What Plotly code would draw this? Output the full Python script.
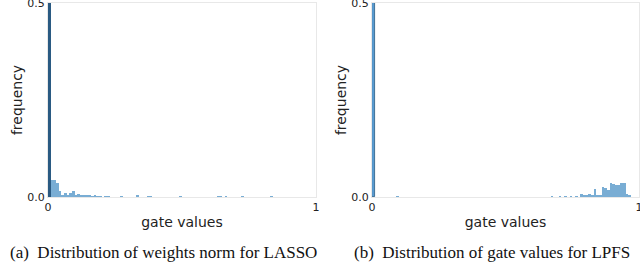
import plotly.graph_objects as go

bin_width = 0.01
n_bins = 100

# LASSO: weights norm histogram (bin index -> frequency)
lasso_bins = {
    0: 0.62, 1: 0.045, 2: 0.043, 3: 0.036, 4: 0.016, 5: 0.006, 6: 0.011,
    7: 0.006, 8: 0.011, 9: 0.016, 10: 0.005, 11: 0.007, 12: 0.004,
    13: 0.006, 14: 0.003, 15: 0.004, 16: 0.002, 17: 0.003, 18: 0.002,
    19: 0.002, 21: 0.002, 22: 0.002, 27: 0.002, 33: 0.004, 37: 0.002,
    38: 0.002, 49: 0.002, 63: 0.002, 64: 0.002, 66: 0.002, 72: 0.002,
    83: 0.002,
}

# LPFS: gate values histogram (bin index -> frequency)
lpfs_bins = {
    0: 0.62, 9: 0.002, 67: 0.002, 70: 0.002, 72: 0.002, 74: 0.002,
    76: 0.002, 78: 0.007, 79: 0.006, 80: 0.005, 81: 0.009, 82: 0.005,
    83: 0.020, 84: 0.005, 85: 0.005, 86: 0.026, 87: 0.023, 88: 0.017,
    89: 0.036, 90: 0.034, 91: 0.030, 92: 0.031, 93: 0.036, 94: 0.035,
    95: 0.008, 96: 0.004,
}

captions = ["(a)  Distribution of weights norm for LASSO",
            "(b)  Distribution of gate values for LPFS"]
x_title = "gate values"
y_title = "frequency"

light = "#79add4"
dark = "#2a5a82"
spike_fill = [dark, "#5a9bd0"]

fig = go.Figure()

x_domains = [[48 / 640, 316 / 640], [372 / 640, 639 / 640]]
y_domain = [1 - 197 / 267, 1 - 3 / 267]

for i, data in enumerate([lasso_bins, lpfs_bins]):
    keys = sorted(data)
    xs = [k * bin_width for k in keys]
    ys = [data[k] for k in keys]
    colors = [spike_fill[i] if k == 0 else light for k in keys]
    lw = [(0 if i == 0 else 0.8) if k == 0 else 0 for k in keys]
    ax = "" if i == 0 else "2"
    fig.add_trace(go.Bar(
        x=xs, y=ys, width=bin_width, offset=0,
        marker=dict(color=colors, line=dict(width=lw, color=dark)),
        xaxis="x" + ax, yaxis="y" + ax, showlegend=False,
        cliponaxis=True, hoverinfo="skip",
    ))

axis_common = dict(
    showline=True, linecolor="#e8e8e8", linewidth=1, mirror=True,
    showgrid=False, zeroline=False, ticks="", automargin=False,
    ticklabeloverflow="allow",
    tickfont=dict(family="DejaVu Sans", size=11, color="#222"),
)

for i in range(2):
    sfx = "" if i == 0 else "2"
    fig.update_layout(**{
        "xaxis" + sfx: dict(
            domain=x_domains[i], range=[0, 1.0004], tickvals=[0, 1],
            ticktext=["0", "1"], anchor="y" + sfx,
            title=dict(text=x_title, font=dict(family="DejaVu Sans", size=14, color="#222"), standoff=3),
            **axis_common),
        "yaxis" + sfx: dict(
            domain=y_domain, range=[0, 0.5008], tickvals=[0, 0.5],
            ticktext=["0.0", "0.5"], anchor="x" + sfx,
            title=dict(text=y_title, font=dict(family="DejaVu Sans", size=14, color="#222"), standoff=1),
            **axis_common),
    })

for cap, cx in zip(captions, [163, 492]):
    fig.add_annotation(text=cap, x=cx / 640, y=1 - 252 / 267,
                       xref="paper", yref="paper", showarrow=False,
                       xanchor="center", yanchor="middle",
                       font=dict(family="Liberation Serif", size=17, color="#111"))

fig.update_layout(
    width=640, height=267, autosize=False,
    margin=dict(l=0, r=0, t=0, b=0, pad=0),
    plot_bgcolor="white", paper_bgcolor="white", bargap=0,
    hovermode=False,
)

fig.write_html("out.html", config={"displayModeBar": False},
               post_script="document.body.style.margin='0';document.body.style.padding='0';")
